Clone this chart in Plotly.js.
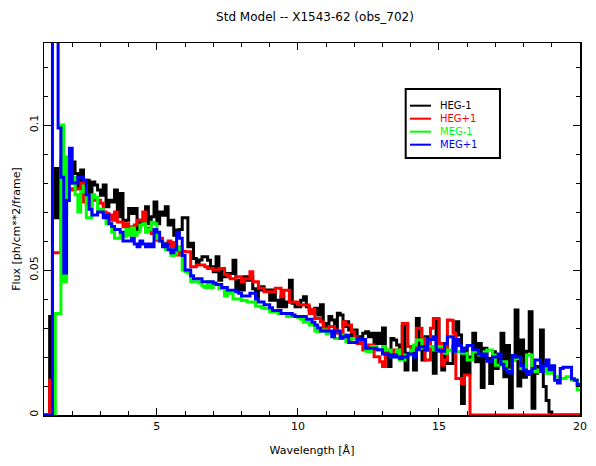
<!DOCTYPE html>
<html>
<head>
<meta charset="utf-8">
<script src="https://cdn.plot.ly/plotly-3.0.1.min.js"></script>
<style>html,body{margin:0;padding:0;background:#fff}#chart{width:596px;height:466px}</style>
</head>
<body>
<div id="chart"></div>
<script>
// Wavelength grid: bins of 0.1 Angstrom from 1.0 to 20.0
const binStart = 1.0;
const binWidth = 0.1;
const nBins = 190;

const seriesNames = ["HEG-1", "HEG+1", "MEG-1", "MEG+1"];
const seriesColors = ["#000000", "#ff0000", "#00ff00", "#0000ff"];

// Flux [ph/cm**2/frame] per bin
const hegMinus1 = [
0, 0, .034, .068, .085, .068, .088, .069, .085, .080,
.0873, .0833, .078, .0845, .0799, .081, .074, .0804, .0793, .0776,
.0758, .0793, .0718, .0741, .0735, .0776, .0684, .0764, .067, .0672,
.0712, .0695, .0712, .064, .0672, .066, .0718, .066, .0684, .0735,
.066, .070, .0689, .0718, .0655, .0672, .062, .0638, .064, .068,
.068, .058, .0592, .054, .0523, .0535, .0546, .0546, .0534, .0511,
.0494, .0546, .0465, .050, .0477, .0488, .0488, .0534, .0431, .0465,
.0431, .0477, .0465, .0477, .0435, .0408, .0431, .0442, .0431, .0431,
.0396, .0431, .0396, .0373, .0408, .0373, .039, .0465, .0385, .0373,
.0373, .0396, .0408, .0373, .0362, .0355, .0368, .0345, .038, .0316,
.0305, .034, .0328, .0293, .0351, .0345, .0305, .0322, .0293, .027,
.0293, .027, .0247, .0282, .0287, .027, .0282, .0247, .0282, .0247,
.030, .0201, .0167, .0264, .0259, .0241, .0218, .0305, .0155, .0213,
.0213, .0155, .0333, .0236, .019, .027, .0224, .0224, .0144, .0328,
.0224, .0155, .0247, .0178, .0178, .0236, .0322, .0276, .004, .023,
.0144, .020, .0282, .0184, .0247, .0095, .023, .0195, .0109, .0218,
.016, .0195, .0282, .0132, .024, .0025, .019, .0362, .010, .0259,
.013, .022, .0356, .0023, .0144, .0167, .0293, .0098, .005, .001,
0, 0, 0, 0, 0, 0, 0, 0, 0, 0
];

const hegPlus1 = [
0, 0, .012, .056, .056, .056, .070, .075, .078, .078,
.0776, .078, .078, .080, .0735, .0724, .0724, .0753, .0741, .0741,
.073, .070, .0695, .069, .0672, .070, .0666, .0666, .0649, .066,
.0638, .0649, .0655, .0672, .0672, .070, .0638, .0644, .0626, .0626,
.0603, .061, .0592, .0592, .060, .058, .0595, .0552, .057, .0565,
.0563, .0563, .0511, .0511, .0517, .0517, .0517, .0511, .0505, .0505,
.050, .050, .0505, .0505, .0485, .048, .047, .047, .0477, .0477,
.046, .047, .047, .0494, .046, .046, .0437, .0437, .0425, .0425,
.0425, .0425, .0437, .0437, .0408, .043, .043, .039, .039, .039,
.038, .038, .0379, .0379, .035, .0365, .0333, .0333, .0322, .0299,
.0299, .0305, .0305, .0293, .0282, .0282, .0322, .031, .031, .0287,
.027, .0247, .0247, .0224, .0224, .0241, .0241, .0201, .0201, .0184,
.0167, .0224, .0207, .0207, .0224, .0224, .0195, .0316, .0316, .0236,
.0224, .0224, .0299, .0299, .0264, .019, .019, .0299, .0333, .0333,
.0247, .0172, .019, .0328, .0327, .0282, .0126, .0126, .0109, .0138,
.0138, 0, 0, 0, 0, 0, 0, 0, 0, 0,
0, 0, 0, 0, 0, 0, 0, 0, 0, 0,
0, 0, 0, 0, 0, 0, 0, 0, 0, 0,
0, 0, 0, 0, 0, 0, 0, 0, 0, 0
];

const megMinus1 = [
0, 0, 0, 0, .035, .035, .100, .046, .089, .080,
.082, .076, .070, .077, .079, .068, .068, .076, .075, .071,
.071, .069, .066, .066, .063, .061, .061, .062, .0615, .064,
.062, .0645, .062, .063, .0655, .066, .063, .064, .0665, .066,
.061, .060, .059, .057, .057, .055, .0555, .057, .058, .050,
.0495, .049, .046, .046, .046, .0455, .0445, .044, .046, .044,
.045, .045, .0435, .0435, .041, .042, .042, .040, .040, .040,
.0395, .0395, .039, .039, .039, .0375, .0375, .037, .0367, .0367,
.0355, .0355, .0355, .035, .035, .035, .034, .034, .034, .034,
.0335, .033, .032, .032, .031, .031, .029, .0287, .029, .0293,
.028, .0287, .0287, .0264, .0264, .0276, .0276, .0253, .0253, .0264,
.0264, .0259, .0259, .0259, .022, .0218, .0236, .0236, .0224, .0224,
.0236, .0224, .0224, .0201, .0201, .0224, .019, .019, .0207, .0207,
.0224, .0241, .0259, .0259, .023, .023, .0236, .0236, .0224, .0224,
.0236, .0236, .0213, .0224, .0224, .0224, .0218, .0218, .0213, .0213,
.019, .019, .0218, .0218, .0207, .0207, .0218, .0224, .0224, .0207,
.0172, .0172, .0184, .0184, .0155, .0155, .019, .0195, .0195, .016,
.016, .0207, .0207, .0149, .0149, .0155, .016, .016, .0144, .0144,
.0144, .0132, .0132, .0126, .0126, .0132, .0132, .0121, .0121, .0086
];

const megPlus1 = [
0, 0, 0, .2, .2, .099, .082, .049, .074, .092,
.080, .080, .082, .082, .081, .076, .071, .069, .069, .070,
.070, .068, .069, .066, .065, .064, .064, .063, .060, .060,
.060, .061, .059, .058, .060, .059, .058, .059, .058, .064,
.063, .060, .058, .059, .057, .056, .057, .063, .061, .055,
.050, .050, .048, .047, .047, .047, .046, .046, .046, .046,
.0455, .045, .045, .044, .044, .043, .043, .043, .0425, .042,
.041, .041, .041, .042, .042, .040, .039, .039, .038, .038,
.037, .036, .036, .036, .035, .035, .035, .035, .0345, .034,
.034, .034, .034, .033, .033, .032, .031, .030, .029, .029,
.029, .029, .027, .029, .029, .0265, .027, .0275, .025, .025,
.025, .0265, .026, .026, .023, .023, .023, .023, .0225, .0225,
.021, .021, .0207, .020, .0207, .020, .0195, .020, .020, .021,
.021, .020, .0225, .0235, .0235, .0225, .026, .026, .027, .0225,
.022, .022, .0245, .027, .027, .022, .026, .024, .022, .023,
.024, .024, .0225, .0225, .021, .0205, .021, .0185, .0185, .020,
.020, .021, .0175, .016, .015, .0145, .0205, .020, .020, .017,
.0155, .014, .015, .016, .019, .019, .015, .017, .019, .0155,
.017, .012, .011, .016, .0165, .0165, .0165, .0125, .012, .0105
];

const xTickVals = [5, 10, 15, 20];
const yTickVals = [0, 0.05, 0.1];
const yTickText = ["0", "0.05", "0.1"];

// bin edges and step values (last bin closed at the final edge)
const edges = Array.from({length: nBins + 1}, (_, i) => +(binStart + i * binWidth).toFixed(2));
const stepY = v => v.concat([v[v.length - 1]]);

const allSeries = [hegMinus1, hegPlus1, megMinus1, megPlus1];
const traces = allSeries.map((vals, k) => ({
  type: "scatter",
  mode: "lines",
  x: edges,
  y: stepY(vals),
  name: seriesNames[k],
  line: {shape: "hv", color: seriesColors[k], width: 3},
  showlegend: false,
  hoverinfo: "skip"
}));

// Manual compact legend box: one multi-line text block, coloured per entry
const legX0 = 0.6748, legX1 = 0.8507, legY0 = 0.6909, legY1 = 0.8763;
const legFont = 10;
const rowPx = legFont * 1.3;           // Plotly line height
const plotH = 372;
const firstRowY = 0.8315;
const shapes = [{
  type: "rect", xref: "paper", yref: "paper",
  x0: legX0, x1: legX1, y0: legY0, y1: legY1,
  line: {color: "#000", width: 2}, fillcolor: "#fff", layer: "above"
}];
const rowY = seriesNames.map((_, k) => firstRowY - k * rowPx / plotH);
seriesNames.forEach((nm, k) => {
  shapes.push({
    type: "line", xref: "paper", yref: "paper",
    x0: 0.6828, x1: 0.7220, y0: rowY[k], y1: rowY[k],
    line: {color: seriesColors[k], width: 2}, layer: "above"
  });
});
const legendText = seriesNames.map((nm, k) =>
  '<span style="color:' + seriesColors[k] + '">' + nm + '</span>').join("<br>");
const annotations = [{
  xref: "paper", yref: "paper", x: 0.7369, y: firstRowY + 0.5 * rowPx / plotH,
  xanchor: "left", yanchor: "top", align: "left", showarrow: false, borderpad: 0,
  text: legendText, font: {family: "DejaVu Sans", size: legFont, color: "#000"}
}];

const layout = {
  width: 596, height: 466,
  margin: {l: 44, r: 16, t: 43, b: 51, pad: 0},
  paper_bgcolor: "#fff", plot_bgcolor: "#fff",
  font: {family: "DejaVu Sans", size: 11, color: "#000"},
  title: {
    text: "Std Model -- X1543-62 (obs_702)",
    font: {family: "DejaVu Sans", size: 12, color: "#000"},
    x: 0.5285, xanchor: "center", y: 0.9635, yanchor: "middle"
  },
  xaxis: {
    range: [1, 20], tickvals: xTickVals, ticks: "inside", ticklen: 7, tickwidth: 1,
    tickcolor: "#000", showline: true, linecolor: "#000", linewidth: 1.5, mirror: "allticks",
    showgrid: false, zeroline: false, tickfont: {size: 11},
    minor: {dtick: 1, tick0: 0, ticks: "inside", ticklen: 4, tickcolor: "#000", showgrid: false},
    title: {text: "Wavelength [Å]", font: {size: 11}, standoff: 14}
  },
  yaxis: {
    range: [0, 0.1283], tickvals: yTickVals, ticktext: yTickText, tickangle: -90,
    ticks: "inside", ticklen: 7, tickwidth: 1, tickcolor: "#000",
    showline: true, linecolor: "#000", linewidth: 1.5, mirror: "allticks",
    showgrid: false, zeroline: false, tickfont: {size: 11},
    minor: {dtick: 0.01, tick0: 0, ticks: "inside", ticklen: 4, tickcolor: "#000", showgrid: false},
    title: {text: "Flux [ph/cm**2/frame]", font: {size: 11}, standoff: 5}
  },
  shapes: shapes,
  annotations: annotations,
  showlegend: false
};

Plotly.newPlot("chart", traces, layout, {displayModeBar: false, staticPlot: true});
</script>
</body>
</html>
